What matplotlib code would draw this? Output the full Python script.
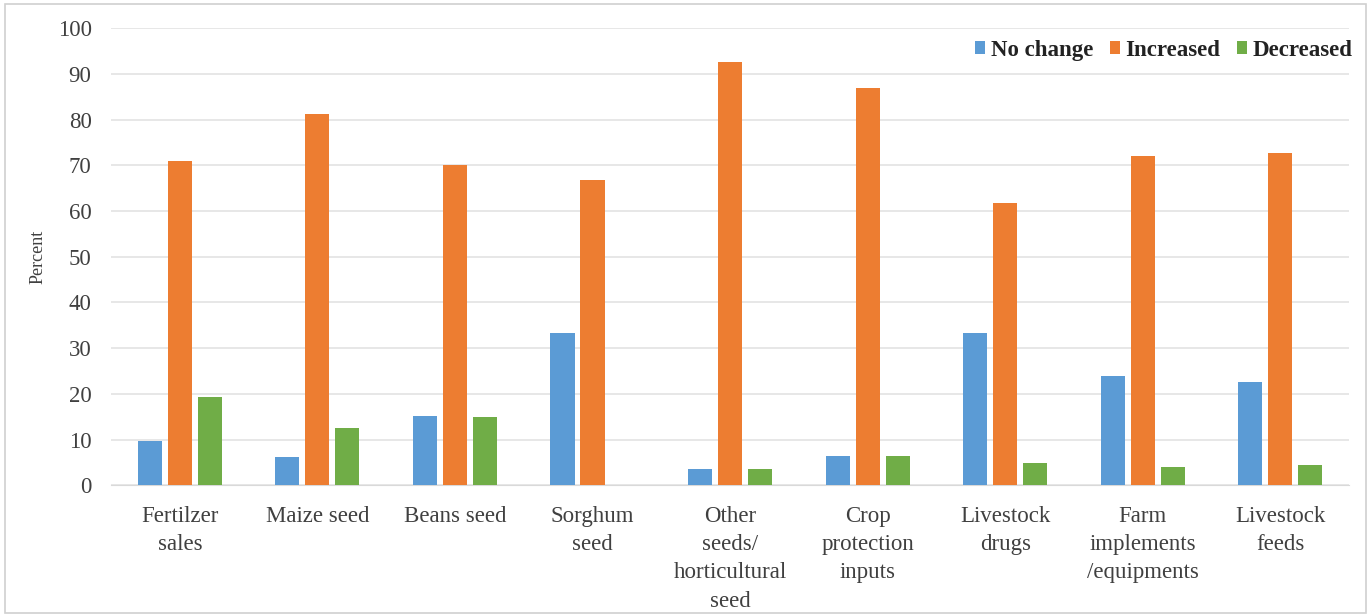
import matplotlib.pyplot as plt
import numpy as np
from matplotlib.patches import Rectangle

categories = [
    "Fertilzer\nsales",
    "Maize seed",
    "Beans seed",
    "Sorghum\nseed",
    "Other\nseeds/\nhorticultural\nseed",
    "Crop\nprotection\ninputs",
    "Livestock\ndrugs",
    "Farm\nimplements\n/equipments",
    "Livestock\nfeeds",
]
no_change = [9.6, 6.1, 15.1, 33.3, 3.5, 6.5, 33.3, 24.0, 22.7]
increased = [70.9, 81.2, 70.0, 66.7, 92.6, 86.9, 61.7, 72.0, 72.7]
decreased = [19.3, 12.5, 15.0, 0.0, 3.5, 6.5, 4.8, 4.0, 4.5]

series = [
    ("No change", no_change, "#5B9BD5"),
    ("Increased", increased, "#ED7D31"),
    ("Decreased", decreased, "#70AD47"),
]

plt.rcParams["font.family"] = ["Liberation Serif", "DejaVu Serif"]

fig = plt.figure(figsize=(13.71, 6.15), dpi=100)
ax = fig.add_axes([0.081, 0.211, 0.903, 0.743])

x = np.arange(len(categories))
step = 0.218
width = 0.175
for i, (name, vals, color) in enumerate(series):
    ax.bar(x + (i - 1) * step, vals, width=width, color=color, label=name, zorder=3)

ax.set_xlim(-0.5, len(categories) - 0.5)
ax.set_ylim(0, 100)
ax.set_yticks(range(0, 101, 10))
ax.set_xticks(x)
ax.set_xticklabels(categories, fontsize=16.5, color="#404040", linespacing=1.45)
ax.tick_params(axis="y", labelsize=16.5, labelcolor="#404040", length=0, pad=14)
ax.tick_params(axis="x", length=0, pad=15)
ax.yaxis.grid(True, color="#E3E3E3", linewidth=1.2, zorder=0)
for s in ["top", "right", "left"]:
    ax.spines[s].set_visible(False)
ax.spines["bottom"].set_color("#D9D9D9")
ax.set_ylabel("Percent", fontsize=13, color="#404040", labelpad=8)

leg = ax.legend(
    loc="upper right", ncol=3, frameon=False, bbox_to_anchor=(1.012, 1.0),
    prop={"weight": "bold", "size": 16.5}, handlelength=0.45, handleheight=0.45,
    handletextpad=0.25, columnspacing=0.7, borderaxespad=0.1,
)
for t in leg.get_texts():
    t.set_color("#222222")

fig.patches.append(Rectangle((0.004, 0.003), 0.992, 0.99, transform=fig.transFigure,
                             fill=False, edgecolor="#D0D0D0", linewidth=1.2))

fig.savefig("out.png", dpi=100)
